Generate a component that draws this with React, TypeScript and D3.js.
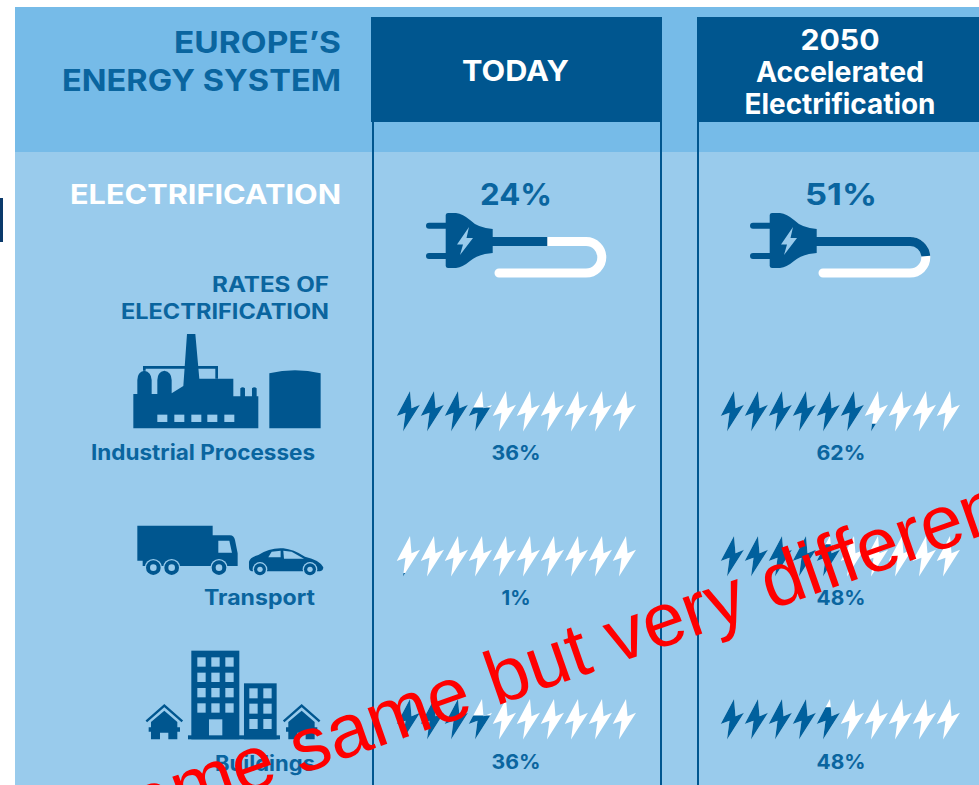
import { useEffect, useRef } from 'react';
import * as d3 from 'd3';

// values
const columns = ['TODAY', '2050 Accelerated Electrification'];
const electrification = [24, 51];
const sectors = ['Industrial Processes', 'Transport', 'Buildings'];
const todayRates = [36, 1, 36];
const futureRates = [62, 48, 48];
const rates = [todayRates, futureRates];

const DARK = '#00568f';
const MID = '#0a659f';
const BAND = '#76bbe8';
const PANEL = '#99cbec';
const FONT = 'Inter, sans-serif';

const columnOffset = [0, 324];
const rowTop = [391, 536, 699];
const rowBaseline = [460, 605, 769];

const boltPoints: [number, number][] = [[0, 0], [-13.3, 25], [-4.5, 21.8], [-7, 40.5], [10, 13.8], [1.5, 17.2]];
const boltPath = d3.line()(boltPoints) + 'Z';

const boltX = d3.scaleLinear().domain([0, 9]).range([410, 626]);
const boltCount = d3.scaleLinear().domain([0, 100]).range([0, 10]);
const boltFill = d3.scaleLinear().domain([0, 1]).range([41, 0]).clamp(true);

const cordPath = () => {
  const p = d3.path();
  p.moveTo(492, 241.5);
  p.lineTo(586, 241.5);
  p.arc(586, 257.3, 15.8, -Math.PI / 2, Math.PI / 2);
  p.lineTo(499, 273);
  return p.toString();
};

const txt = (g: any, s: string, x: number, y: number, size: number, fill: string, anchor: string, width?: number) => {
  const t = g.append('text')
    .attr('x', x).attr('y', y)
    .attr('font-family', FONT).attr('font-weight', 700)
    .attr('font-size', size).attr('fill', fill)
    .attr('text-anchor', anchor).text(s);
  if (width) t.attr('textLength', width).attr('lengthAdjust', 'spacingAndGlyphs');
  return t;
};

const drawFactory = (g: any) => {
  const f = g.append('g').attr('transform', 'translate(120,320) scale(0.3333)').attr('fill', DARK);
  f.append('path').attr('d', 'M40 325V222H52V180Q52 156 73 152Q94 156 95 180V222H112V180Q112 156 133 152Q155 156 155 180V220L190 198L201 42H226L238 176H340V229H361V205Q368 198 375 205V229H396V205Q403 198 410 205V229H415V325Z');
  f.append('path').attr('d', 'M73 152V142H290V176').attr('fill', 'none').attr('stroke', DARK).attr('stroke-width', 8);
  f.selectAll('rect.w').data([112, 163, 214, 262, 313]).enter().append('rect')
    .attr('x', (d: number) => d).attr('y', 284).attr('width', 30).attr('height', 22).attr('fill', PANEL);
  f.append('path').attr('d', 'M448 325V160Q525 142 602 160V325Z');
};

const wheel = (g: any, x: number, y: number, r: number) => {
  g.append('circle').attr('cx', x).attr('cy', y).attr('r', r + 4).attr('fill', PANEL);
  g.append('circle').attr('cx', x).attr('cy', y).attr('r', r).attr('fill', DARK);
  g.append('circle').attr('cx', x).attr('cy', y).attr('r', r * 0.45).attr('fill', PANEL);
};

const drawVehicles = (g: any) => {
  const v = g.append('g').attr('transform', 'translate(120,510) scale(0.3333)').attr('fill', DARK);
  v.append('path').attr('d', 'M52 47H278V76H330Q342 76 345 90L353 130V168H68V152H52Z');
  v.append('path').attr('d', 'M295 92H328L336 128H295Z').attr('fill', PANEL);
  wheel(v, 100, 173, 22);
  wheel(v, 155, 173, 22);
  wheel(v, 297, 173, 22);
  v.append('path').attr('d', 'M387 172V155Q390 142 415 135Q450 112 490 115Q520 118 555 140Q600 150 610 172Q610 182 600 184H395Q387 182 387 172Z');
  v.append('path').attr('d', 'M445 142L455 125L482 122V142Z').attr('fill', PANEL);
  v.append('path').attr('d', 'M490 122L515 125L552 146L492 146Z').attr('fill', PANEL);
  wheel(v, 420, 178, 18);
  wheel(v, 570, 178, 18);
};

const drawBuildings = (g: any) => {
  const b = g.append('g').attr('transform', 'translate(100,640) scale(0.3333)').attr('fill', DARK);
  b.append('rect').attr('x', 274).attr('y', 32).attr('width', 144).attr('height', 266);
  b.append('rect').attr('x', 432).attr('y', 130).attr('width', 98).attr('height', 168);
  b.append('rect').attr('x', 264).attr('y', 286).attr('width', 276).attr('height', 12);
  [52, 98, 144, 190].forEach((y) => [292, 334, 376].forEach((x) => {
    b.append('rect').attr('x', x).attr('y', y).attr('width', 25).attr('height', 28).attr('fill', PANEL);
  }));
  [145, 191, 237].forEach((y) => [448, 490].forEach((x) => {
    b.append('rect').attr('x', x).attr('y', y).attr('width', 25).attr('height', 30).attr('fill', PANEL);
  }));
  b.append('rect').attr('x', 327).attr('y', 238).attr('width', 40).attr('height', 48).attr('fill', PANEL);
  [0, 412].forEach((dx) => {
    const h = b.append('g').attr('transform', `translate(${dx},0)`);
    h.append('path').attr('d', 'M139 244L193 197L247 244').attr('fill', 'none').attr('stroke', DARK).attr('stroke-width', 7);
    h.append('path').attr('d', 'M193 212L232 246V262H240V275H232V298H205V278H180V298H153V275H146V262H153V246Z');
  });
};

const drawPlug = (g: any, dx: number, share: number) => {
  const p = g.append('g').attr('transform', `translate(${dx},0)`);
  p.append('path').attr('d', cordPath()).attr('fill', 'none').attr('stroke', 'white')
    .attr('stroke-width', 9).attr('stroke-linecap', 'round');
  p.append('path').attr('d', cordPath()).attr('fill', 'none').attr('stroke', DARK)
    .attr('stroke-width', 9).attr('pathLength', 100).attr('stroke-dasharray', `${share} ${100 - share}`);
  p.append('path').attr('d', 'M429 225.7H446M429 256H446').attr('stroke', DARK).attr('stroke-width', 6).attr('stroke-linecap', 'round');
  p.append('path').attr('fill', DARK).attr('d', 'M445.7 215Q446 213 448 213H456Q463 214 470 220Q478 228 492.7 229V253Q478 254 470 261Q463 267 456 268H448Q446 268 445.7 266Z');
  p.append('path').attr('fill', PANEL).attr('d', 'M469 227L457 244.5H463L460 255L473 238H466.5Z');
};

const App = () => {
  const ref = useRef<SVGSVGElement>(null);

  useEffect(() => {
    const svg = d3.select(ref.current);
    svg.selectAll('*').remove();

    svg.append('rect').attr('x', 15).attr('y', 7).attr('width', 964).attr('height', 778).attr('fill', PANEL);
    svg.append('rect').attr('x', 15).attr('y', 7).attr('width', 964).attr('height', 145).attr('fill', BAND);
    svg.append('rect').attr('x', 0).attr('y', 198).attr('width', 3).attr('height', 44).attr('fill', '#0b3a6b');

    [373, 661, 698].forEach((x) => {
      svg.append('line').attr('x1', x).attr('x2', x).attr('y1', 120).attr('y2', 785)
        .attr('stroke', DARK).attr('stroke-width', 2);
    });
    svg.append('rect').attr('x', 371).attr('y', 17).attr('width', 291).attr('height', 105).attr('fill', DARK);
    svg.append('rect').attr('x', 697).attr('y', 17).attr('width', 282).attr('height', 105).attr('fill', DARK);

    txt(svg, 'EUROPE’S', 341, 53, 30, MID, 'end', 167);
    txt(svg, 'ENERGY SYSTEM', 341, 91, 30, MID, 'end', 279);
    txt(svg, 'ELECTRIFICATION', 341, 204, 27, 'white', 'end', 271);
    txt(svg, 'RATES OF', 329, 292, 21, MID, 'end', 117);
    txt(svg, 'ELECTRIFICATION', 329, 319, 21, MID, 'end', 208);

    txt(svg, columns[0], 515.5, 81, 29, 'white', 'middle', 107);
    txt(svg, '2050', 840, 50, 29, 'white', 'middle', 79);
    txt(svg, 'Accelerated', 840, 82, 28, 'white', 'middle', 168);
    txt(svg, 'Electrification', 840, 114, 28, 'white', 'middle', 191);

    drawFactory(svg);
    drawVehicles(svg);
    drawBuildings(svg);

    const sectorWidth = [224, 111, 100];
    sectors.forEach((s, i) => {
      txt(svg, s, 315, rowBaseline[i] + (i === 2 ? 2 : 0), 21, MID, 'end', sectorWidth[i]);
    });

    const defs = svg.append('defs');
    columnOffset.forEach((dx, c) => {
      const cx = 516 + (c === 0 ? 0 : 325);
      txt(svg, `${electrification[c]}%`, cx, 205, 30, MID, 'middle', 72);
      drawPlug(svg, dx, electrification[c]);

      rates[c].forEach((rate, r) => {
        const filled = boltCount(rate);
        d3.range(10).forEach((i) => {
          const id = `clip-${c}-${r}-${i}`;
          const y0 = boltFill(filled - i);
          defs.append('clipPath').attr('id', id).append('rect')
            .attr('x', -15).attr('y', y0).attr('width', 30).attr('height', 41 - y0);
          const b = svg.append('g').attr('transform', `translate(${boltX(i) + dx},${rowTop[r]})`);
          b.append('path').attr('d', boltPath).attr('fill', 'white');
          b.append('path').attr('d', boltPath).attr('fill', '#00609d').attr('clip-path', `url(#${id})`);
        });
        txt(svg, `${rate}%`, cx, rowBaseline[r], 20, MID, 'middle', rate === 1 ? 29 : 49);
      });
    });

    svg.append('text')
      .attr('transform', 'translate(93,847) rotate(-19.3)')
      .attr('font-family', '"Liberation Sans", Arial, sans-serif')
      .attr('font-size', 76).attr('fill', '#ff0000')
      .text('Same same but very different');
  }, []);

  return <svg ref={ref} width={979} height={785} style={{ position: 'absolute', left: 0, top: 0, background: 'white' }} />;
};

export default App;
